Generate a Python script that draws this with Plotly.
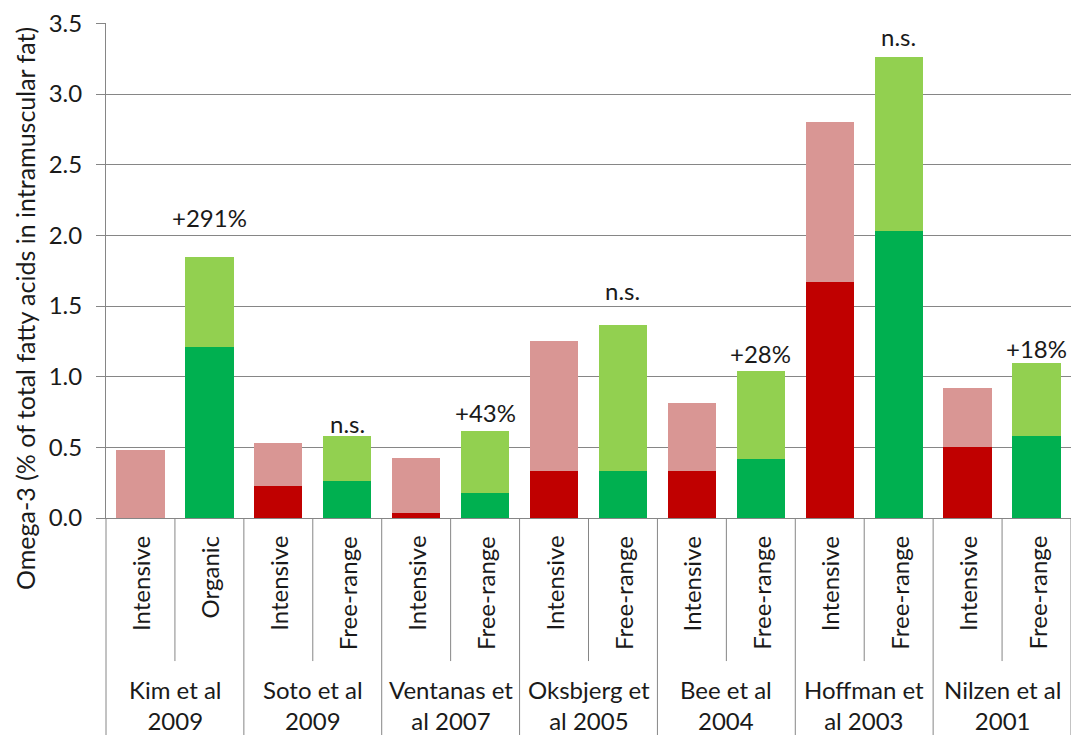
import plotly.graph_objects as go

# ---- data ----
groups = ["Kim et al<br>2009", "Soto et al<br>2009", "Ventanas et<br>al 2007",
          "Oksbjerg et<br>al 2005", "Bee et al<br>2004", "Hoffman et<br>al 2003",
          "Nilzen et al<br>2001"]
treatments = [["Intensive", "Organic"], ["Intensive", "Free-range"],
              ["Intensive", "Free-range"], ["Intensive", "Free-range"],
              ["Intensive", "Free-range"], ["Intensive", "Free-range"],
              ["Intensive", "Free-range"]]
# lower (dark) segment and total bar height, per bar
dark_values = [0.0, 1.21, 0.23, 0.26, 0.035, 0.18, 0.33, 0.33, 0.33, 0.42,
               1.67, 2.03, 0.50, 0.58]
total_values = [0.48, 1.85, 0.53, 0.58, 0.425, 0.613, 1.25, 1.365, 0.815, 1.04,
                2.80, 3.265, 0.92, 1.095]
# significance / change labels above the second bar of each study
change_labels = ["+291%", "n.s.", "+43%", "n.s.", "+28%", "n.s.", "+18%"]
y_title = "Omega-3 (% of total fatty acids in intramuscular fat)"
y_ticks = [0.0, 0.5, 1.0, 1.5, 2.0, 2.5, 3.0, 3.5]

# ---- build ----
x_ids = []
bar_kind = []
for g, tr in zip(groups, treatments):
    for t in tr:
        x_ids.append(g.replace("<br>", " ") + " | " + t)
        bar_kind.append(t)

light_values = [t - d for t, d in zip(total_values, dark_values)]
dark_colors = ["#C00000" if k == "Intensive" else "#00B050" for k in bar_kind]
light_colors = ["#D99694" if k == "Intensive" else "#92D050" for k in bar_kind]

FONT = "Lato, 'Open Sans', sans-serif"
GRAY = "#868686"
TXT = "#1a1a1a"

fig = go.Figure()
fig.add_trace(go.Bar(x=x_ids, y=dark_values, marker=dict(color=dark_colors, line=dict(width=0)),
                     showlegend=False, hoverinfo="y"))
fig.add_trace(go.Bar(x=x_ids, y=light_values, marker=dict(color=light_colors, line=dict(width=0)),
                     showlegend=False, hoverinfo="y"))

annotations = []
# treatment labels (rotated)
for xi, k in zip(x_ids, bar_kind):
    annotations.append(dict(x=xi, xref="x", y=0, yref="paper", text=k, textangle=-90,
                            showarrow=False, xanchor="center", yanchor="top", yshift=-16,
                            font=dict(family=FONT, size=24, color=TXT)))
# group labels
for gi, g in enumerate(groups):
    annotations.append(dict(x=2 * gi + 0.5, xref="x", y=0, yref="paper", text=g,
                            showarrow=False, xanchor="center", yanchor="top", yshift=-155,
                            font=dict(family=FONT, size=24, color=TXT)))
# change labels above second bar of each group
label_shift_px = [39, 13, 19, 35, 18, 20, 15]
for gi, lab in enumerate(change_labels):
    idx = 2 * gi + 1
    annotations.append(dict(x=x_ids[idx], xref="x", y=total_values[idx], yref="y", text=lab,
                            showarrow=False, xanchor="center", yanchor="middle",
                            yshift=label_shift_px[gi],
                            font=dict(family=FONT, size=24, color=TXT)))
# y-axis title (placed like the original, slightly below the plot centre)
annotations.append(dict(x=0, xref="paper", y=0, yref="paper", text=y_title, textangle=-90,
                        showarrow=False, xanchor="center", yanchor="middle",
                        xshift=-81, yshift=209,
                        font=dict(family=FONT, size=25, color=TXT)))

shapes = []
n = len(x_ids)
# left boundary line extending below the axis
shapes.append(dict(type="line", xref="paper", yref="paper", x0=0, x1=0, y0=0, y1=-0.5,
                   line=dict(color=GRAY, width=1)))
for i in range(1, n + 1):
    full = (i % 2 == 0)
    shapes.append(dict(type="line", xref="x", yref="paper", x0=i - 0.5, x1=i - 0.5,
                       y0=0, y1=-0.5 if full else -0.289,
                       line=dict(color=GRAY, width=1)))

fig.update_layout(
    barmode="stack",
    bargap=0.3,
    width=1071, height=735,
    margin=dict(l=106, r=0, t=23, b=217),
    paper_bgcolor="white", plot_bgcolor="white",
    font=dict(family=FONT, size=24, color=TXT),
    annotations=annotations,
    shapes=shapes,
    xaxis=dict(showticklabels=False, showgrid=False, showline=True, linecolor=GRAY,
               linewidth=1, ticks="", zeroline=False, range=[-0.5, n - 0.5]),
    yaxis=dict(range=[0, 3.503], tickmode="array", tickvals=y_ticks,
               ticktext=[f"{v:.1f}" for v in y_ticks],
               showgrid=True, gridcolor=GRAY,
               gridwidth=1, showline=True, linecolor=GRAY, linewidth=1, ticks="outside",
               ticklen=9, tickcolor=GRAY, zeroline=False, ticklabelstandoff=9,
               tickfont=dict(family=FONT, size=24, color=TXT)),
)

fig.write_html("out.html", config={"displayModeBar": False},
               post_script="document.body.style.margin='0';document.body.style.overflow='hidden';")
